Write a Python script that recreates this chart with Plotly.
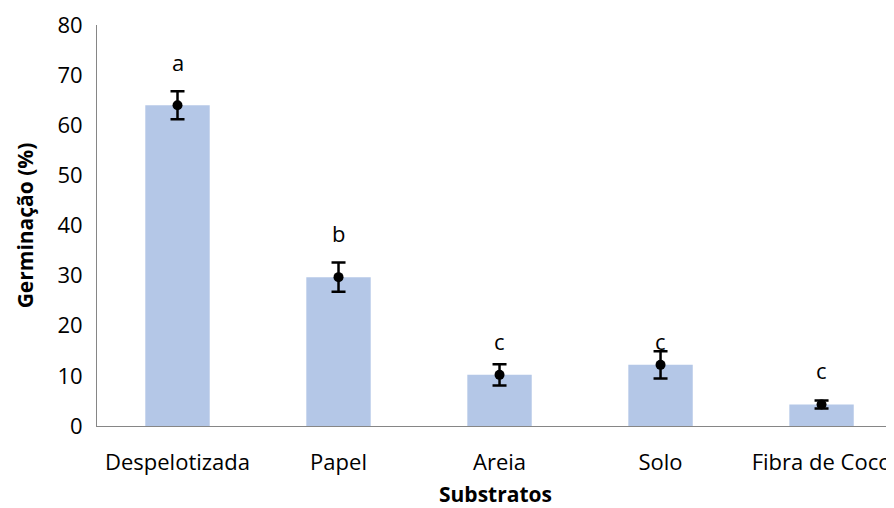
import plotly.graph_objects as go

categories = ["Despelotizada", "Papel", "Areia", "Solo", "Fibra de Coco"]
germinacao = [64.0, 29.7, 10.2, 12.2, 4.3]
erro = [2.8, 2.9, 2.1, 2.7, 0.8]
letras = ["a", "b", "c", "c", "c"]
letras_y = [72.6, 38.5, 17.0, 17.0, 11.2]
y_ticks = [0, 10, 20, 30, 40, 50, 60, 70, 80]

FONT = "Open Sans"

fig = go.Figure()
fig.add_trace(go.Bar(
    x=categories, y=germinacao,
    marker=dict(color="#B4C7E7", line=dict(width=0)),
    width=0.4, showlegend=False, hoverinfo="skip",
))
fig.add_trace(go.Scatter(
    x=categories, y=germinacao, mode="markers",
    marker=dict(color="black", size=10),
    error_y=dict(type="data", array=erro, visible=True,
                 color="black", thickness=2.5, width=7),
    showlegend=False,
))
for c, t, yy in zip(categories, letras, letras_y):
    fig.add_annotation(x=c, y=yy, text=t, showarrow=False,
                       font=dict(family=FONT, size=22, color="black"),
                       xanchor="center", yanchor="middle")

fig.update_layout(
    width=886, height=500,
    margin=dict(l=89, r=0, t=17, b=82),
    plot_bgcolor="white", paper_bgcolor="white",
    font=dict(family=FONT, size=22, color="black"),
    bargap=0.6,
)
fig.update_xaxes(
    range=[-0.5, 4.45], showline=True, linecolor="#868686", linewidth=1,
    ticks="", showgrid=False, tickfont=dict(family=FONT, size=22),
    ticklabelstandoff=17, automargin=False,
    title=dict(text="<b>Substratos</b>", font=dict(family=FONT, size=21), standoff=14),
)
fig.update_yaxes(
    range=[0, 80], tickvals=y_ticks, showline=True, linecolor="#868686",
    linewidth=1, ticks="", showgrid=False, zeroline=False,
    tickfont=dict(family=FONT, size=22), ticklabelstandoff=9, automargin=False,
    title=dict(text="<b>Germinação (%)</b>", font=dict(family=FONT, size=21), standoff=18),
)

fig.write_html("out.html")
